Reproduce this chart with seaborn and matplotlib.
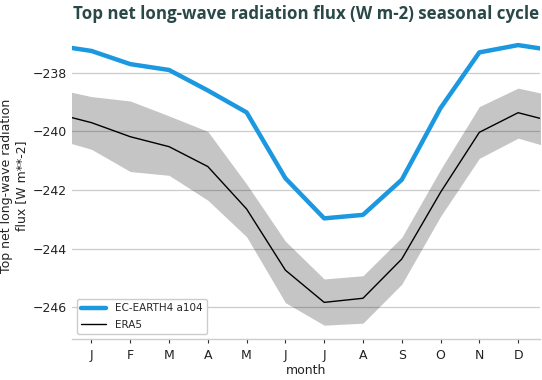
import numpy as np
import pandas as pd
import matplotlib.pyplot as plt
import seaborn as sns

# ── Data ──────────────────────────────────────────────────────────────────
MONTHS = ["J", "F", "M", "A", "M", "J", "J", "A", "S", "O", "N", "D"]
MODEL_NAME = "EC-EARTH4 a104"
OBS_NAME = "ERA5"

model_vals = [-237.25, -237.70, -237.90, -238.60, -239.35, -241.60,
              -242.97, -242.85, -241.65, -239.20, -237.30, -237.05]
era5_vals = [-239.70, -240.18, -240.52, -241.20, -242.65, -244.74,
             -245.84, -245.70, -244.36, -242.08, -240.03, -239.36]
era5_hi = [-238.81, -238.96, -239.47, -240.00, -241.80, -243.75,
           -245.04, -244.93, -243.62, -241.30, -239.15, -238.52]
era5_lo = [-240.61, -241.37, -241.50, -242.35, -243.60, -245.85,
           -246.62, -246.55, -245.22, -242.90, -240.92, -240.23]

BLUE = "#1b98e0"
TITLE_CLR = "#2b4848"


def wrap(vals):
    # cyclic seasonal cycle: add Dec before Jan and Jan after Dec
    return [vals[-1]] + list(vals) + [vals[0]]


x = np.arange(0, 14)
df = pd.DataFrame({
    "month": np.concatenate([x, x]),
    "flux": wrap(model_vals) + wrap(era5_vals),
    "source": [MODEL_NAME] * 14 + [OBS_NAME] * 14,
})

sns.set_theme(style="whitegrid")
plt.rcParams["font.family"] = ["DejaVu Sans"]

fig = plt.figure(figsize=(5.42, 3.8), dpi=100)
ax = fig.add_axes([0.133, 0.108, 0.863, 0.808])

ax.fill_between(x, wrap(era5_lo), wrap(era5_hi), color="k", alpha=0.25,
                linewidth=0, zorder=2)
sns.lineplot(data=df, x="month", y="flux", hue="source", size="source",
             palette={MODEL_NAME: BLUE, OBS_NAME: "black"},
             sizes={MODEL_NAME: 3.2, OBS_NAME: 1.0}, ax=ax, zorder=3)

ax.set_xlim(0.5, 12.56)
ax.set_ylim(-247.09, -236.6)
ax.set_xticks(range(1, 13))
ax.set_xticklabels(MONTHS)
ax.set_yticks([-246, -244, -242, -240, -238])
ax.set_yticklabels(["\u2212246", "\u2212244", "\u2212242", "\u2212240", "\u2212238"])

ax.grid(axis="x", visible=False)
ax.grid(axis="y", color="#cccccc", linewidth=0.9)
for s in ["left", "top", "right"]:
    ax.spines[s].set_visible(False)
ax.spines["bottom"].set_color("#cccccc")
ax.spines["bottom"].set_linewidth(1.0)
ax.tick_params(axis="x", length=3, width=0.8, color="#333333", labelsize=9,
               labelcolor="#222222", pad=4, bottom=True)
ax.tick_params(axis="y", length=0, labelsize=9, labelcolor="#222222", pad=4)

ax.set_xlabel("month", fontsize=9, color="#222222", labelpad=2)
ax.set_ylabel("Top net long-wave radiation\nflux [W m**-2]", fontsize=9,
              color="#222222", labelpad=3)
ax.set_title("Top net long-wave radiation flux (W m-2) seasonal cycle",
             fontsize=12.2, fontweight="bold", color=TITLE_CLR,
             family=["Open Sans", "DejaVu Sans"], pad=9)

ax.legend(loc="lower left", fontsize=7.5, frameon=True, framealpha=1,
          edgecolor="#cccccc", handlelength=2.4, borderaxespad=0.5,
          labelspacing=0.6)

fig.savefig("out.png", dpi=100)
